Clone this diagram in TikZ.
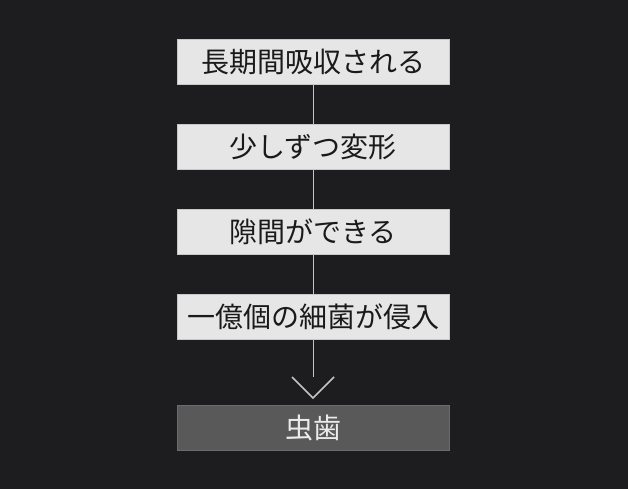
\documentclass[tikz,border=0pt]{standalone}
\usepackage{fontspec}
\setmainfont{Noto Sans CJK JP}
\definecolor{bgcol}{HTML}{1D1D1F}
\definecolor{boxfill}{HTML}{E6E6E7}
\definecolor{boxline}{HTML}{C8C8C8}
\definecolor{boxtext}{HTML}{1A1A1A}
\definecolor{endfill}{HTML}{595959}
\definecolor{endline}{HTML}{6C6C6C}
\definecolor{endtext}{HTML}{EBEBEB}
\definecolor{linkcol}{HTML}{C4C4C4}
\tikzstyle{stepbox} = [rectangle, minimum width=272pt, minimum height=45pt, inner sep=0pt, text centered, fill=boxfill, draw=boxline, text=boxtext, font=\fontsize{28}{30}\selectfont]
\tikzstyle{endbox} = [stepbox, fill=endfill, draw=endline, text=endtext]
\tikzstyle{link} = [line width=1pt, draw=linkcol]
\tikzstyle{chevron} = [line width=1.6pt, draw=linkcol, line join=miter]

\begin{document}
\begin{tikzpicture}[node distance=85pt]
        \useasboundingbox[fill=bgcol] (0,0) rectangle (628pt,-489pt);
        \node (absorb) [stepbox] at (313pt,-61.5pt) {長期間吸収される};
        \node (deform) [stepbox, below of=absorb] {少しずつ変形};
        \node (gap) [stepbox, below of=deform] {隙間ができる};
        \node (inv) [stepbox, below of=gap] {一億個の細菌が侵入};
        \node (decay) [endbox, below of=inv, yshift=-26pt] {虫歯};
        \coordinate (stem) at (313pt,-377pt);
        \coordinate (tip) at (313pt,-398pt);

        \draw [link] (absorb) -- (deform);
        \draw [link] (deform) -- (gap);
        \draw [link] (gap) -- (inv);
        \draw [link] (inv) -- (stem);
        \draw [chevron] (tip) ++(-21pt,21pt) -- (tip) -- ++(21pt,21pt);
        \end{tikzpicture}
\end{document}
